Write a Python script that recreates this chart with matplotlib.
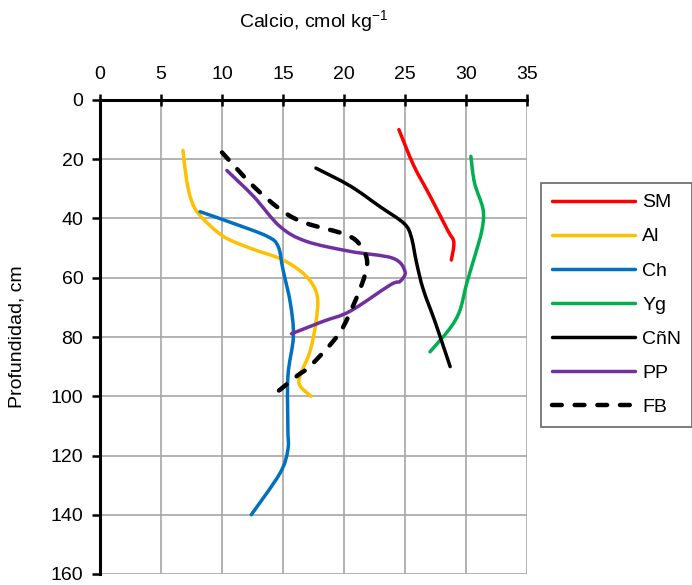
import matplotlib
matplotlib.use("Agg")
import numpy as np
import matplotlib.pyplot as plt
from matplotlib.path import Path
from matplotlib.patches import PathPatch

plt.rcParams['font.family'] = ['Liberation Sans Narrow', 'Liberation Sans', 'DejaVu Sans']

# Series data: (calcio values, depth in cm)
smX = [24.5, 25.7, 27.0, 28.5, 29.0, 28.8]
smY = [10, 22, 32, 44, 48, 54]

alX = [6.8, 7.1, 7.5, 8.2, 10.1, 12.3, 15.0, 16.9, 17.8, 17.7, 17.2, 16.4, 16.4, 17.3]
alY = [17, 27, 34, 39, 46, 50, 54, 59.5, 66, 75, 85, 93, 96.5, 100]

chX = [8.2, 10.9, 13.7, 14.6, 15.0, 15.6, 15.85, 15.4, 15.4, 15.4, 14.75, 12.4]
chY = [37.7, 41.6, 46, 49.4, 57.3, 68.5, 79.8, 93.3, 111, 118, 126, 140]

ygX = [30.4, 30.7, 31.4, 31.3, 30.7, 30.05, 29.5, 28.7, 27.05]
ygY = [19, 28, 37, 44, 53, 62, 71, 77, 85]

cnX = [17.7, 20.5, 22.95, 24.9, 25.5, 25.95, 26.5, 27.5, 28.7]
cnY = [23, 29, 36, 41.6, 46, 55, 64, 75.3, 90]

ppX = [10.4, 12.6, 14.75, 16.9, 20.5, 24.0, 25.0, 24.6, 23.8, 20.5, 18.3, 15.7]
ppY = [23.8, 32.6, 42.7, 47.7, 51.1, 53.4, 57.9, 61.2, 62.4, 71.3, 74.7, 78.9]

fbX = [10.0, 12.6, 15.0, 16.9, 20.2, 21.4, 21.9, 21.4, 20.1, 19.1, 17.2, 16.1, 14.1]
fbY = [17.7, 29.2, 37.6, 41.6, 45.5, 49.4, 55, 62.9, 75.3, 81.5, 89.9, 93.3, 100]

xTicks = [0, 5, 10, 15, 20, 25, 30, 35]
yTicks = [0, 20, 40, 60, 80, 100, 120, 140, 160]


# Smoothed line (like Excel "smoothed line"): bezier segments through the points
def _smoothPath(xs, ys) -> Path:
    pts = np.column_stack([xs, ys]).astype(float)
    n = len(pts)
    verts = [pts[0]]
    codes = [Path.MOVETO]
    for i in range(n - 1):
        p0 = pts[i - 1] if i > 0 else pts[i]
        p1 = pts[i]
        p2 = pts[i + 1]
        p3 = pts[i + 2] if i + 2 < n else pts[i + 1]
        verts += [p1 + (p2 - p0) / 6.0, p2 - (p3 - p1) / 6.0, p2]
        codes += [Path.CURVE4] * 3
    return Path(verts, codes)


fig = plt.figure(figsize=(6.92, 5.85), dpi=100)
ax = fig.add_axes([100 / 692, 1 - 574 / 585, 427 / 692, 474 / 585])

lw = 2.5
series = [
    (smX, smY, "#ff0000", "SM", "-"),
    (alX, alY, "#ffc000", "Al", "-"),
    (chX, chY, "#0070c0", "Ch", "-"),
    (ygX, ygY, "#00b050", "Yg", "-"),
    (cnX, cnY, "#000000", "CñN", "-"),
    (ppX, ppY, "#7030a0", "PP", "-"),
    (fbX, fbY, "#000000", "FB", "--"),
]
for xs, ys, color, name, style in series:
    if style == "--":
        patch = PathPatch(_smoothPath(xs, ys), fill=False, edgecolor=color, lw=3.2,
                          linestyle=(0, (2.2, 2.9)), capstyle="round", zorder=3)
        ax.add_patch(patch)
        ax.plot([], [], color=color, lw=3.2, dashes=(2.2, 2.9),
                dash_capstyle="round", label=name)
    else:
        patch = PathPatch(_smoothPath(xs, ys), fill=False, edgecolor=color, lw=lw,
                          capstyle="round", zorder=3)
        ax.add_patch(patch)
        ax.plot([], [], color=color, lw=lw, solid_capstyle="round", label=name)

ax.set_xlim(0, 35)
ax.set_ylim(160, 0)
ax.set_xticks(xTicks)
ax.set_yticks(yTicks)
ax.xaxis.tick_top()
ax.xaxis.set_label_position("top")
ax.grid(True, color="#a6a6a6", lw=1.2)
ax.set_axisbelow(True)

for side in ["right", "bottom"]:
    ax.spines[side].set_visible(False)
for side in ["left", "top"]:
    ax.spines[side].set_linewidth(2.2)

ax.tick_params(axis="x", direction="inout", length=9, width=1.8, labelsize=14, pad=8)
ax.tick_params(axis="y", direction="out", length=6, width=1.8, labelsize=14, pad=6)

ax.set_xlabel("Calcio, cmol kg$^{\\mathregular{-1}}$", fontsize=14, labelpad=27)
ax.set_ylabel("Profundidad, cm", fontsize=14, labelpad=18)

leg = fig.legend(loc="upper left", bbox_to_anchor=(541 / 692, 1 - 183 / 585),
                 fontsize=14, frameon=True, fancybox=False, edgecolor="#404040",
                 handlelength=4.3, handletextpad=0.35, labelspacing=0.85,
                 borderpad=0.55, borderaxespad=0.0)
leg.get_frame().set_linewidth(1.2)

plt.savefig("out.png", dpi=100)
